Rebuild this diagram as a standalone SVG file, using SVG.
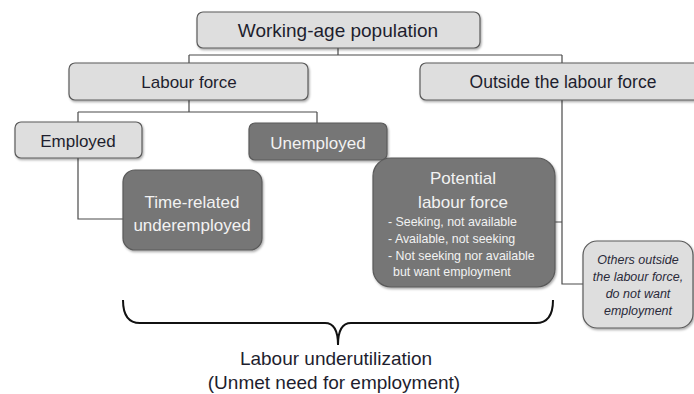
<svg xmlns="http://www.w3.org/2000/svg" width="694" height="394" viewBox="0 0 694 394">
<defs>
<filter id="sh" x="-10%" y="-10%" width="130%" height="140%">
<feDropShadow dx="1" dy="1.5" stdDeviation="1" flood-color="#000" flood-opacity="0.35"/>
</filter>
<style>
.light{fill:#dedede;stroke:#5a5a5a;stroke-width:1.2;filter:url(#sh)}
.dark{fill:#767676;stroke:#5a5a5a;stroke-width:1.2;filter:url(#sh)}
.t{font-family:"Liberation Sans",Arial,sans-serif;fill:#1e1e2e;text-anchor:middle}
.w{font-family:"Liberation Sans",Arial,sans-serif;fill:#f2f2f2;text-anchor:middle}
.b{font-family:"Liberation Sans",Arial,sans-serif;fill:#f2f2f2;font-size:12.4px}
.i{font-family:"Liberation Sans",Arial,sans-serif;fill:#2a2a3a;font-size:12.5px;font-style:italic;text-anchor:middle}
.c{fill:none;stroke:#4a4a4a;stroke-width:1.2}
</style>
</defs>
<g id="connectors">
<path class="c" d="M338,48 V55 M189,55 H562 M189,55 V63"/>
<path class="c" d="M562,55 V284 H583 M555,222 H562" stroke="#222"/>
<path class="c" d="M189,100 V112 M78,112 H317 M78,112 V122 M317,112 V123"/>
<path class="c" d="M78,158 V219 H123"/>
</g>
<g id="working-age">
<rect class="light" x="197" y="12" width="283" height="36" rx="6"/>
<text class="t" x="338" y="37" font-size="19">Working-age population</text>
</g>
<g id="labour-force">
<rect class="light" x="69" y="63" width="239" height="37" rx="6"/>
<text class="t" x="189" y="88" font-size="17">Labour force</text>
</g>
<g id="outside">
<rect class="light" x="420" y="63" width="286" height="37" rx="6"/>
<text class="t" x="563" y="88" font-size="17.5">Outside the labour force</text>
</g>
<g id="employed">
<rect class="light" x="15" y="122" width="127" height="36" rx="6"/>
<text class="t" x="78" y="147" font-size="17">Employed</text>
</g>
<g id="unemployed">
<rect class="dark" x="249" y="123" width="138" height="37" rx="6"/>
<text class="w" x="318" y="149" font-size="17">Unemployed</text>
</g>
<g id="time-related">
<rect class="dark" x="123" y="170" width="139" height="80" rx="12"/>
<text class="w" x="192" y="208" font-size="17">Time-related</text>
<text class="w" x="192" y="231" font-size="17">underemployed</text>
</g>
<g id="potential">
<rect class="dark" x="373" y="158" width="182" height="129" rx="18"/>
<text class="w" x="463" y="184" font-size="17">Potential</text>
<text class="w" x="463" y="208" font-size="17">labour force</text>
<text class="b" x="388" y="226">- Seeking, not available</text>
<text class="b" x="388" y="243">- Available, not seeking</text>
<text class="b" x="388" y="260">- Not seeking nor available</text>
<text class="b" x="393" y="276">but want employment</text>
</g>
<g id="others">
<rect class="light" x="583" y="241" width="110" height="87" rx="14"/>
<text class="i" x="638" y="264">Others outside</text>
<text class="i" x="638" y="281">the labour force,</text>
<text class="i" x="638" y="298">do not want</text>
<text class="i" x="638" y="315">employment</text>
</g>
<g id="brace">
<path d="M123,300 Q123,323 140,323 L325,323 Q338,323 338,345 Q338,323 351,323 L536,323 Q553,323 553,300" fill="none" stroke="#111" stroke-width="2"/>
<text class="t" x="336" y="365" font-size="19">Labour underutilization</text>
<text class="t" x="334" y="389" font-size="19">(Unmet need for employment)</text>
</g>
</svg>
